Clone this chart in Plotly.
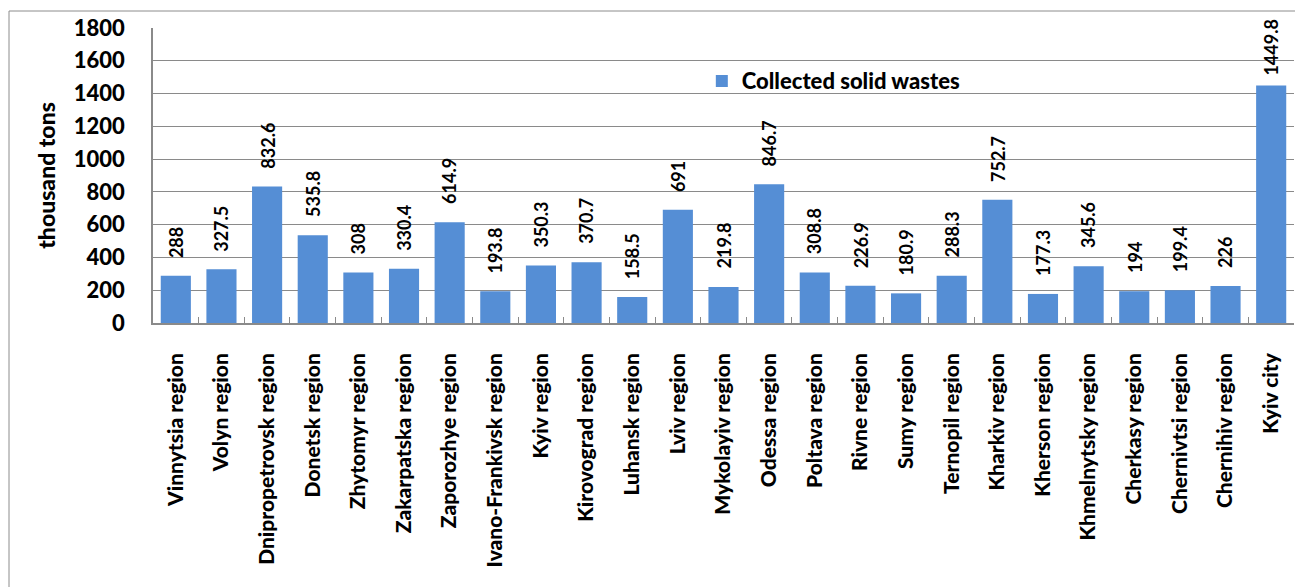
import plotly.graph_objects as go

# Collected solid wastes by region, thousand tons
regions = [
    "Vinnytsia region", "Volyn region", "Dnipropetrovsk region", "Donetsk region",
    "Zhytomyr region", "Zakarpatska region", "Zaporozhye region",
    "Ivano-Frankivsk region", "Kyiv region", "Kirovograd region", "Luhansk region",
    "Lviv region", "Mykolayiv region", "Odessa region", "Poltava region",
    "Rivne region", "Sumy region", "Ternopil region", "Kharkiv region",
    "Kherson region", "Khmelnytsky region", "Cherkasy region", "Chernivtsi region",
    "Chernihiv region", "Kyiv city",
]
collected = [
    288, 327.5, 832.6, 535.8, 308, 330.4, 614.9, 193.8, 350.3, 370.7, 158.5,
    691, 219.8, 846.7, 308.8, 226.9, 180.9, 288.3, 752.7, 177.3, 345.6, 194,
    199.4, 226, 1449.8,
]
series_name = "Collected solid wastes"
y_title = "thousand tons"
y_ticks = [0, 200, 400, 600, 800, 1000, 1200, 1400, 1600, 1800]

FONT = "Lato"
HEAVY = 900
BAR = "#558ED5"
GRID = "#8a8a8a"

fig = go.Figure()
fig.add_trace(go.Bar(
    x=regions, y=collected, name=series_name,
    marker=dict(color=BAR, line=dict(width=0)),
    showlegend=True,
))

# value labels standing vertically above each bar
for r, v in zip(regions, collected):
    fig.add_annotation(
        x=r, y=v, text=f"{v:g}", textangle=-90, showarrow=False,
        xanchor="center", yanchor="bottom", yshift=16 if v < 1400 else 8,
        font=dict(family=FONT, size=18, color="black", weight="bold"),
    )

# outer chart frame
fig.add_shape(
    type="rect", xref="paper", yref="paper",
    x0=-0.1262, x1=1.05, y0=-1.0, y1=1.0576,
    line=dict(color="#8c8c8c", width=1), fillcolor="rgba(0,0,0,0)", layer="below",
)

fig.update_layout(
    width=1295, height=587,
    margin=dict(l=153, r=1, t=28, b=264),
    paper_bgcolor="white", plot_bgcolor="white",
    bargap=0.34,
    font=dict(family=FONT, color="black"),
    legend=dict(
        x=0.481, y=0.82, xanchor="left", yanchor="middle",
        bgcolor="rgba(0,0,0,0)",
        font=dict(family=FONT, size=22, color="black", weight=HEAVY),
    ),
    xaxis=dict(
        tickangle=-90, showline=True, linecolor=GRID, linewidth=1.5,
        ticks="inside", tickson="boundaries", ticklen=6, tickcolor=GRID,
        ticklabelstandoff=20,
        tickfont=dict(family=FONT, size=21, color="black", weight=HEAVY),
        showgrid=False, automargin=False,
    ),
    yaxis=dict(
        range=[0, 1800], tickvals=y_ticks, showgrid=True, gridcolor=GRID,
        gridwidth=1.3, zeroline=False, showline=True, linecolor=GRID,
        linewidth=1.5, ticks="", ticklabelstandoff=22,
        tickfont=dict(family=FONT, size=22, color="black", weight=HEAVY),
        title=dict(text=y_title, standoff=12,
                   font=dict(family=FONT, size=23, color="black", weight=HEAVY)),
        automargin=False,
    ),
)

fig.write_html("out.html")
